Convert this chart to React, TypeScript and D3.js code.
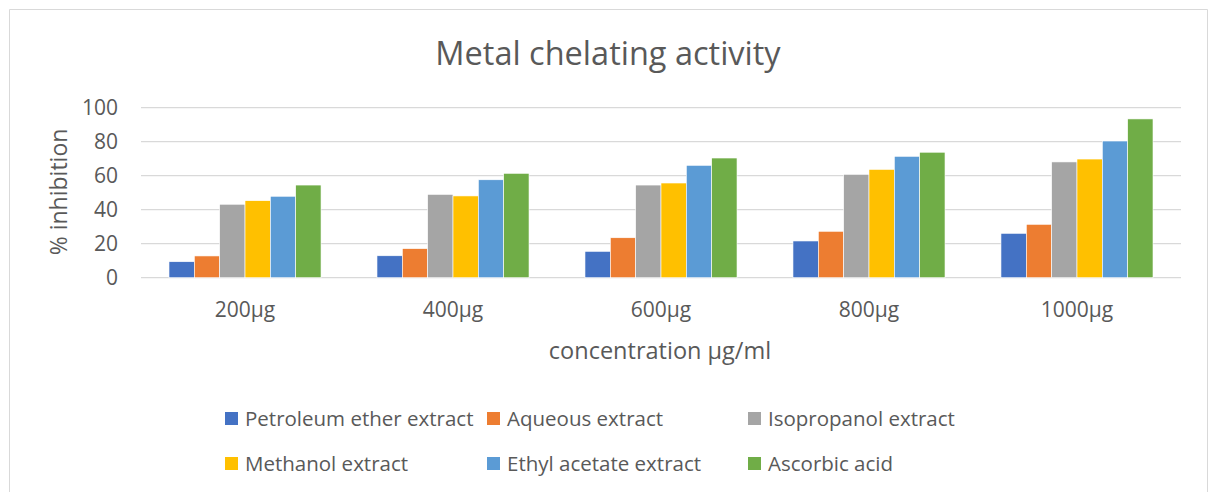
import React from "react";
import * as d3 from "d3";

const categories = ["200µg", "400µg", "600µg", "800µg", "1000µg"];
const seriesNames = [
  "Petroleum ether extract",
  "Aqueous extract",
  "Isopropanol extract",
  "Methanol extract",
  "Ethyl acetate extract",
  "Ascorbic acid",
];
const petroleumEther = [9.4, 12.9, 15.5, 21.6, 26.1];
const aqueous = [12.8, 17.1, 23.5, 27.3, 31.4];
const isopropanol = [43.2, 49.0, 54.5, 60.8, 68.1];
const methanol = [45.3, 48.1, 55.7, 63.7, 69.8];
const ethylAcetate = [47.9, 57.6, 66.1, 71.4, 80.4];
const ascorbic = [54.5, 61.4, 70.4, 73.8, 93.4];
const yTicks = [0, 20, 40, 60, 80, 100];
const colors = ["#4472C4", "#ED7D31", "#A5A5A5", "#FFC000", "#5B9BD5", "#70AD47"];

const seriesValues = [petroleumEther, aqueous, isopropanol, methanol, ethylAcetate, ascorbic];

const W = 1210;
const H = 492;
const FONT = "'Open Sans', sans-serif";
const TXT = "#595959";

export default function App() {
  const x0 = d3.scaleBand<string>().domain(categories).range([141, 1181]).paddingInner(0.269).paddingOuter(0.1346);
  const x1 = d3.scaleBand<number>().domain(d3.range(seriesNames.length)).range([0, x0.bandwidth()]);
  const y = d3.scaleLinear().domain([0, 100]).range([277.7, 107.7]);

  const legendCols = [225, 487, 748];
  const legendRows = [419, 464];

  return (
    <svg
      width={W}
      height={H}
      style={{ position: "absolute", left: 0, top: 0, background: "#fff" }}
      fontFamily={FONT}
    >
      <rect x={0} y={0} width={W} height={H} fill="#fff" />
      <path d={`M9.5,${H} V9.5 H1207.5 V${H}`} fill="none" stroke="#d9d9d9" strokeWidth={1} />
      <text x={608} y={65} textAnchor="middle" fontSize={32.5} fill={TXT}>
        Metal chelating activity
      </text>
      {yTicks.map((t) => (
        <g key={t}>
          <line x1={141} x2={1181} y1={y(t)} y2={y(t)} stroke="#d9d9d9" strokeWidth={1.2} />
          <text x={118} y={y(t)} dy="0.35em" textAnchor="end" fontSize={21} fill={TXT}>
            {t}
          </text>
        </g>
      ))}
      {categories.map((c, i) => (
        <g key={c} transform={`translate(${x0(c)},0)`}>
          {seriesValues.map((vals, s) => (
            <rect
              key={s}
              x={x1(s)}
              y={y(vals[i])}
              width={x1.bandwidth()}
              height={y(0) - y(vals[i])}
              fill={colors[s]}
              stroke="#fff"
              strokeWidth={0.6}
            />
          ))}
          <text x={x0.bandwidth() / 2} y={317} textAnchor="middle" fontSize={21} fill={TXT}>
            {c}
          </text>
        </g>
      ))}
      <text x={660} y={359} textAnchor="middle" fontSize={23.5} fill={TXT}>
        concentration µg/ml
      </text>
      <text
        transform={`translate(67,192) rotate(-90)`}
        textAnchor="middle"
        fontSize={23}
        fill={TXT}
      >
        % inhibition
      </text>
      {seriesNames.map((n, s) => {
        const cx = legendCols[s % 3];
        const cy = legendRows[Math.floor(s / 3)];
        return (
          <g key={n}>
            <rect x={cx} y={cy - 7} width={13} height={13} fill={colors[s]} />
            <text x={cx + 20} y={cy} dy="0.35em" fontSize={20.5} fill={TXT}>
              {n}
            </text>
          </g>
        );
      })}
    </svg>
  );
}
